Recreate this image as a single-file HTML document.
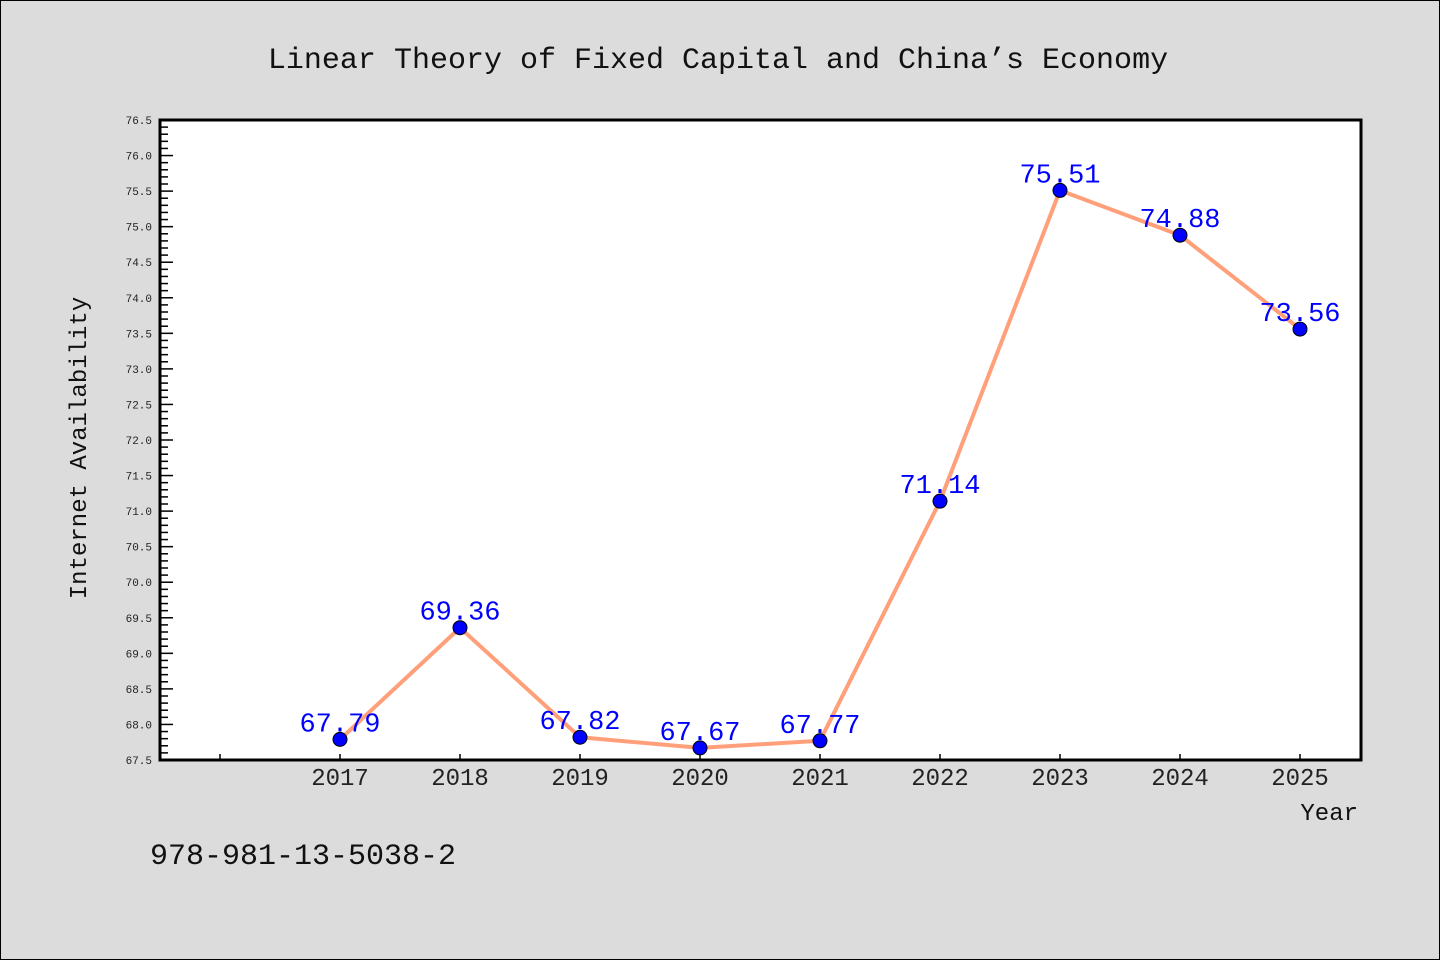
<!DOCTYPE html>
<html><head><meta charset="utf-8"><style>
body{margin:0;background:#dcdcdc}
svg{display:block}
text{font-family:"Liberation Mono","DejaVu Sans Mono",monospace}
</style></head><body>
<svg id="chart" width="1440" height="960" xmlns="http://www.w3.org/2000/svg">
<rect x="0.5" y="0.5" width="1439" height="959" fill="#dcdcdc" stroke="#000"/>
<text x="718" y="68" text-anchor="middle" font-size="30" fill="#111">Linear Theory of Fixed Capital and China’s Economy</text>
<rect x="160" y="120" width="1201" height="640" fill="#fff"/>
<g id="axes"></g>
<g id="series"></g>
<path d="M160,120 H1361 V760 H160 Z" fill="none" stroke="#000" stroke-width="3"/>
<text x="86" y="448" transform="rotate(-90 86 448)" text-anchor="middle" font-size="24" fill="#111">Internet Availability</text>
<text x="1358" y="820" text-anchor="end" font-size="24" fill="#111">Year</text>
<text x="150" y="864" font-size="30" fill="#111">978-981-13-5038-2</text>
</svg>
<script>
const categories=["2017","2018","2019","2020","2021","2022","2023","2024","2025"];
const values=[67.79,69.36,67.82,67.67,67.77,71.14,75.51,74.88,73.56];
const yMin=67.5,yMax=76.5,yStep=0.5;
const NS="http://www.w3.org/2000/svg";
function y(v){return 760-(v-yMin)/(yMax-yMin)*640;}
function x(i){return 340+i*120;}
function mk(tag,attrs,parent){const e=document.createElementNS(NS,tag);for(const k in attrs)e.setAttribute(k,attrs[k]);parent.appendChild(e);return e;}
const axes=document.getElementById('axes'),series=document.getElementById('series');
for(let k=0;k<=Math.round((yMax-yMin)/0.1);k++){
 const v=yMin+k*0.1,yy=y(v),major=k%5===0;
 const t=mk('line',{x1:160,x2:160+(major?13:8),y1:yy,y2:yy,stroke:'#000','stroke-width':1.5},axes);
 
 
 if(major){const l=mk('text',{x:152,y:yy+4,'text-anchor':'end','font-size':11,fill:'#222'},axes);l.textContent=v.toFixed(1);
 
 }
}
for(let i=-1;i<categories.length;i++){
 const t=mk('line',{x1:x(i),x2:x(i),y1:760,y2:754,stroke:'#000','stroke-width':1.5},axes);
 
 
 if(i>=0){const l=mk('text',{x:x(i),y:785,'text-anchor':'middle','font-size':24,fill:'#222'},axes);l.textContent=categories[i];
 
 }
}
const pl=mk('polyline',{points:values.map((v,i)=>x(i)+','+y(v)).join(' '),fill:'none',stroke:'#FFA07A','stroke-width':4,'stroke-linejoin':'round'},series);


values.forEach((v,i)=>{
 const c=mk('circle',{cx:x(i),cy:y(v),r:7,fill:'#0000ff',stroke:'#000','stroke-width':1},series);
 
 
 const t=mk('text',{x:x(i),y:y(v)-8,'text-anchor':'middle','font-size':27,fill:'#0000ff'},series);
 t.textContent=v.toFixed(2);
 
 
});
</script>
</body></html>
